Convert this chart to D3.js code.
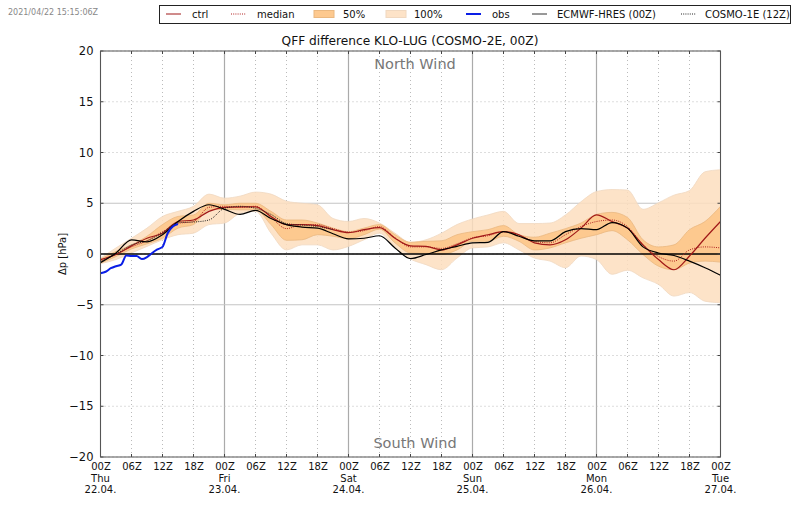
<!DOCTYPE html>
<html>
<head>
<meta charset="utf-8">
<script src="https://cdn.jsdelivr.net/npm/d3@7"></script>
<style>
body { margin: 0; background: #fff; }
text { font-family: "DejaVu Sans", sans-serif; fill: #111; }
</style>
</head>
<body>
<svg id="chart"></svg>
<script>
// hours since 22.04. 00Z, one value every 3h
var hours = d3.range(0, 121, 3);

var p100Up = [-0.4,0.6,1.55,2.55,3.7,4.2,4.7,5.9,5.5,5.7,6.1,5.9,5.2,5.0,4.85,3.5,3.2,3.5,3.05,2.05,1.15,1.4,2.05,2.9,3.45,3.85,4.2,3.0,3.0,3.05,3.85,5.15,6.15,6.35,6.3,4.4,5.05,5.8,6.25,8.1,8.3];
var p100Lo = [-0.95,-0.55,0.1,0.75,1.4,1.9,2.05,2.9,3.05,4.0,4.2,2.05,0.4,0.9,0.9,0.4,0.75,1.4,2.05,0.6,-0.5,-1.05,-1.55,-0.4,0.6,0.7,1.1,0.4,-0.4,-0.7,-1.35,-0.2,-0.55,-2.0,-1.6,-2.35,-3.0,-4.15,-3.8,-4.65,-4.8];
var p50Up = [-0.5,0.25,0.9,1.75,2.9,3.7,3.85,5.0,4.85,5.0,5.0,4.2,3.35,3.35,3.05,2.55,2.2,2.55,2.9,1.9,1.15,1.25,1.3,1.9,2.2,2.4,2.8,1.9,1.65,2.05,2.5,3.05,3.9,4.1,3.6,1.4,0.7,0.9,2.4,3.2,4.7];
var p50Lo = [-0.9,-0.25,0.5,1.0,1.55,2.55,2.9,4.35,4.4,4.35,4.35,2.9,1.35,1.4,1.9,1.75,1.5,1.9,2.45,1.1,0.1,0.05,-0.05,0.4,1.25,1.25,1.75,1.25,0.4,0.6,1.1,1.55,1.9,2.3,1.4,-0.05,-1.2,-1.55,-0.9,-0.7,-0.8];
var ctrl = [-0.55,-0.05,0.8,1.55,2.05,3.2,3.35,4.2,4.6,4.65,4.65,3.7,2.9,2.9,2.8,2.4,2.1,2.4,2.6,1.55,0.8,0.75,0.4,0.9,1.55,1.9,2.2,1.9,1.1,0.9,1.4,2.55,3.85,3.2,2.55,0.9,-0.55,-1.55,-0.2,1.55,3.2];
var median = [-0.7,0.0,0.7,1.3,2.2,3.0,3.2,4.6,4.7,4.6,4.7,3.6,2.5,2.9,2.9,2.5,2.15,2.3,2.7,1.6,0.7,0.7,0.55,1.0,1.6,1.8,2.2,1.8,1.25,1.1,1.9,2.7,3.2,3.35,2.7,0.9,-0.25,-0.7,0.4,0.7,0.6];
var hres = [-0.85,0.1,1.4,1.2,1.9,3.2,4.2,4.85,4.4,3.9,4.3,3.5,2.9,2.65,2.55,2.0,1.5,1.55,1.8,0.6,-0.45,-0.05,0.4,0.75,1.1,1.15,2.2,1.75,1.3,1.3,2.2,2.5,2.4,3.1,2.55,0.7,0.1,-0.15,-0.7,-1.35,-2.1];
// previous 12Z run, ends early
var cosmo1Hours = d3.range(0, 46, 3);
var cosmo1 = [-0.75,0.0,0.9,1.3,2.1,3.1,3.15,3.35,4.5,4.7,4.5,3.9,3.0,2.85,2.7,2.4];
// obs, hourly
var obsHours = d3.range(0, 16);
var obs = [-1.9,-1.75,-1.4,-1.2,-1.05,-0.15,-0.2,-0.2,-0.5,-0.3,0.1,0.45,0.7,2.05,2.7,2.95];

var xTicks = d3.range(0, 121, 6);
var yTicks = d3.range(-20, 21, 5);
var weekdays = ["Thu", "Fri", "Sat", "Sun", "Mon", "Tue"];
var dates = ["22.04.", "23.04.", "24.04.", "25.04.", "26.04.", "27.04."];
var legendNames = ["ctrl", "median", "50%", "100%", "obs", "ECMWF-HRES (00Z)", "COSMO-1E (12Z)"];

var colCtrl = "#a01818", colBand50 = "#fdc485", colBand100 = "#fddebe";
var colGrid = "#bbb", colFrame = "#555";

var svg = d3.select("#chart").attr("width", 800).attr("height", 509);

var x = d3.scaleLinear().domain([0, 120]).range([100.5, 720.5]);
var y = d3.scaleLinear().domain([-20, 20]).range([457, 51]);

// grid
svg.append("g").selectAll("line").data(xTicks).enter().append("line")
    .attr("x1", d => x(d)).attr("x2", d => x(d))
    .attr("y1", y(-20)).attr("y2", y(20))
    .attr("stroke", d => d % 24 == 0 ? "#aaa" : colGrid)
    .attr("stroke-width", d => d % 24 == 0 ? 1.2 : 1)
    .attr("stroke-dasharray", d => d % 24 == 0 ? null : "1,3");
svg.append("g").selectAll("line").data(yTicks).enter().append("line")
    .attr("x1", x(0)).attr("x2", x(120))
    .attr("y1", d => y(d)).attr("y2", d => y(d))
    .attr("stroke", d => Math.abs(d) == 5 ? "#c4c4c4" : colGrid)
    .attr("stroke-width", d => Math.abs(d) == 5 ? 1.2 : 1)
    .attr("stroke-dasharray", d => Math.abs(d) == 5 ? null : "1,3");

// bands
function band(lo, up) {
    return d3.area().curve(d3.curveMonotoneX).x((d, i) => x(hours[i])).y0((d, i) => y(lo[i])).y1((d, i) => y(up[i]))(hours);
}
svg.append("path").attr("d", band(p100Lo, p100Up)).attr("fill", colBand100).attr("fill-opacity", 0.85).attr("stroke", "#f0d8c0").attr("stroke-width", 0.8);
svg.append("path").attr("d", band(p50Lo, p50Up)).attr("fill", colBand50).attr("fill-opacity", 0.85).attr("stroke", "#eab880").attr("stroke-width", 0.8);

// zero line
svg.append("line").attr("x1", x(0)).attr("x2", x(120)).attr("y1", y(0)).attr("y2", y(0))
    .attr("stroke", "#000").attr("stroke-width", 1.3);

function curve(xs, ys, color, w, dash) {
    var line = d3.line().curve(d3.curveMonotoneX).x((d, i) => x(xs[i])).y(d => y(d));
    svg.append("path").attr("d", line(ys)).attr("fill", "none")
        .attr("stroke", color).attr("stroke-width", w).attr("stroke-dasharray", dash);
}
curve(hours, median, "#b02020", 1, "1,1.2");
curve(hours, ctrl, colCtrl, 1.2, null);
curve(cosmo1Hours, cosmo1, "#222", 1, "1,1.2");
curve(hours, hres, "#000", 1.2, null);
curve(obsHours, obs, "#0a1ee6", 2, null);

// axes
var xAxis = d3.axisBottom(x).tickValues(xTicks).tickSize(0).tickPadding(6).tickFormat(d => d3.format("02")(d % 24) + "Z");
var yAxis = d3.axisLeft(y).tickValues(yTicks).tickSize(0).tickPadding(7).tickFormat(d => d3.format("d")(d).replace("-", "\u2212"));
var gx = svg.append("g").attr("transform", "translate(0," + y(-20) + ")").call(xAxis);
var gy = svg.append("g").attr("transform", "translate(" + x(0) + ",0)").call(yAxis);
gx.select(".domain").remove();
gy.select(".domain").remove();
gx.selectAll("text").attr("font-size", 10).attr("font-family", "DejaVu Sans").attr("fill", "#111");
gy.selectAll("text").attr("font-size", 11.5).attr("font-family", "DejaVu Sans").attr("fill", "#111");

// small inward ticks like the original
svg.append("g").selectAll("line").data(xTicks).enter().append("line")
    .attr("x1", d => x(d)).attr("x2", d => x(d)).attr("y1", y(-20)).attr("y2", y(-20) - 3).attr("stroke", "#444");
svg.append("g").selectAll("line").data(xTicks).enter().append("line")
    .attr("x1", d => x(d)).attr("x2", d => x(d)).attr("y1", y(20)).attr("y2", y(20) + 3).attr("stroke", "#444");
svg.append("g").selectAll("line").data(yTicks).enter().append("line")
    .attr("x1", x(0)).attr("x2", x(0) + 3).attr("y1", d => y(d)).attr("y2", d => y(d)).attr("stroke", "#444");
svg.append("g").selectAll("line").data(yTicks).enter().append("line")
    .attr("x1", x(120)).attr("x2", x(120) - 3).attr("y1", d => y(d)).attr("y2", d => y(d)).attr("stroke", "#444");

// day labels under the midnight ticks
weekdays.forEach(function(day, i) {
    svg.append("text").attr("x", x(i * 24)).attr("y", 482).attr("text-anchor", "middle").attr("font-size", 10).text(day);
    svg.append("text").attr("x", x(i * 24)).attr("y", 493).attr("text-anchor", "middle").attr("font-size", 10).text(dates[i]);
});

// frame
svg.append("rect").attr("x", x(0)).attr("y", y(20)).attr("width", x(120) - x(0)).attr("height", y(-20) - y(20))
    .attr("fill", "none").attr("stroke", colFrame).attr("stroke-width", 1);

// texts
svg.append("text").attr("x", 8).attr("y", 15).attr("font-size", 8).style("fill", "#888").text("2021/04/22 15:15:06Z");
svg.append("text").attr("x", 410).attr("y", 45).attr("text-anchor", "middle").attr("font-size", 12.2).text("QFF difference KLO-LUG (COSMO-2E, 00Z)");
svg.append("text").attr("x", 415).attr("y", 69).attr("text-anchor", "middle").attr("font-size", 14.5).style("fill", "#777").text("North Wind");
svg.append("text").attr("x", 415).attr("y", 448).attr("text-anchor", "middle").attr("font-size", 14.5).style("fill", "#777").text("South Wind");
svg.append("text").attr("transform", "translate(66,254) rotate(-90)").attr("text-anchor", "middle").attr("font-size", 10).text("\u0394p [hPa]");

// legend
svg.append("rect").attr("x", 159.5).attr("y", 5.5).attr("width", 631).attr("height", 18)
    .attr("fill", "#fff").attr("stroke", "#222").attr("stroke-width", 1);
var legendX = [192, 257, 343, 414, 492, 557, 705];
var legendKeyX = [166, 231, 314, 386, 466, 532, 681];
legendNames.forEach(function(name, i) {
    svg.append("text").attr("x", legendX[i]).attr("y", 18).attr("font-size", 10).text(name);
    var kx = legendKeyX[i];
    if (i == 2 || i == 3) {
        svg.append("rect").attr("x", kx).attr("y", 10.5).attr("width", 20).attr("height", 7)
            .attr("fill", i == 2 ? "#fdc98f" : "#fde3c8").attr("stroke", i == 2 ? "#eab880" : "#f0d8c0");
    } else {
        svg.append("line").attr("x1", kx).attr("x2", kx + 15).attr("y1", 14).attr("y2", 14)
            .attr("stroke", ["#a01818", "#b02020", 0, 0, "#0a1ee6", "#333", "#222"][i])
            .attr("stroke-width", i == 4 ? 2 : 1)
            .attr("stroke-dasharray", (i == 1 || i == 6) ? "1,1.2" : null);
    }
});
</script>
</body>
</html>
